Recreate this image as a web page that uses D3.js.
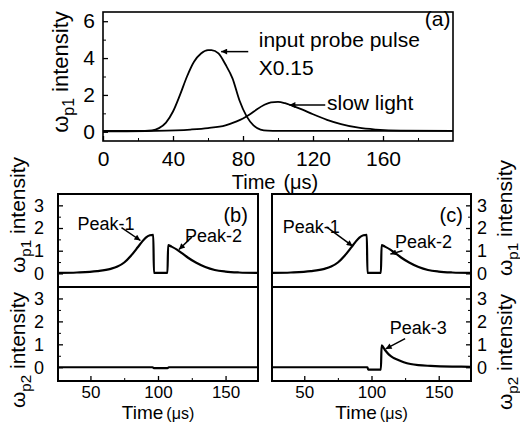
<!DOCTYPE html>
<html>
<head>
<meta charset="utf-8">
<script src="https://cdn.jsdelivr.net/npm/d3@7"></script>
<style>
  body { margin: 0; background: #fff; }
  svg { display: block; }
  text { font-family: "Liberation Sans", Arial, sans-serif; fill: #000; }
</style>
</head>
<body>
<svg id="chart" width="520" height="423"></svg>
<script>
// panel (a): input probe pulse (x0.15) and slow light
const inputT = [0, 20, 28, 32, 36, 40, 44, 48, 52, 56, 60, 62, 66, 70, 74, 78, 82, 86, 90, 94, 100, 120, 160, 200];
const inputV = [0.05, 0.05, 0.08, 0.2, 0.5, 1.1, 2.0, 3.0, 3.8, 4.25, 4.43, 4.43, 4.25, 3.65, 2.9, 1.7, 0.85, 0.35, 0.12, 0.06, 0.05, 0.05, 0.05, 0.05];
const slowT = [0, 30, 50, 60, 70, 76, 80, 84, 88, 92, 96, 100, 104, 108, 114, 120, 128, 136, 146, 156, 170, 200];
const slowV = [0.02, 0.05, 0.12, 0.2, 0.35, 0.55, 0.72, 0.95, 1.22, 1.45, 1.6, 1.62, 1.55, 1.42, 1.2, 0.95, 0.65, 0.42, 0.22, 0.12, 0.06, 0.05];

// panels (b),(c): wp1 is the same, wp2 differs
const p1T = [26, 40, 55, 65, 70, 75, 80, 85, 88, 91, 94, 96.5, 97, 107, 107.5, 110, 114, 118, 122, 128, 135, 142, 150, 160, 174];
const p1V = [0.02, 0.04, 0.1, 0.2, 0.3, 0.48, 0.78, 1.15, 1.38, 1.58, 1.68, 1.7, 0.02, 0.02, 1.25, 1.18, 1.05, 0.88, 0.7, 0.48, 0.28, 0.15, 0.08, 0.04, 0.02];
const p2bT = [26, 60, 96, 97, 107, 108, 130, 174];
const p2bV = [0.0, 0.0, 0.0, -0.04, -0.04, 0.0, 0.0, 0.0];
const p2cT = [26, 60, 90, 97, 97.5, 107, 107.5, 110, 113, 116, 119, 124, 129, 135, 144, 160, 174];
const p2cV = [0.0, 0.0, 0.0, 0.0, -0.1, -0.1, 0.95, 0.75, 0.55, 0.42, 0.34, 0.22, 0.14, 0.09, 0.06, 0.03, 0.02];

const ticksA_X = [0, 40, 80, 120, 160];
const ticksA_Y = [0, 2, 4, 6];
const ticksBC_X = [50, 100, 150];
const ticksBC_Y = [0, 1, 2, 3];
const notesA = ['input probe pulse', 'X0.15', 'slow light', '(a)'];
const notesBC = ['Peak-1', 'Peak-2', 'Peak-3'];

const svg = d3.select('#chart');
const defs = svg.append('defs');
defs.append('marker')
  .attr('id', 'head')
  .attr('viewBox', '0 0 10 10')
  .attr('refX', 10).attr('refY', 5)
  .attr('markerWidth', 10).attr('markerHeight', 6)
  .attr('markerUnits', 'userSpaceOnUse')
  .attr('orient', 'auto')
  .append('path').attr('d', 'M0,0L10,5L0,10z').attr('fill', '#000');

function zip(ts, vs) {
  return ts.map((t, i) => [t, vs[i]]);
}

function curve(g, x, y, ts, vs, width) {
  g.append('path')
    .datum(zip(ts, vs))
    .attr('fill', 'none')
    .attr('stroke', '#000')
    .attr('stroke-width', width)
    .attr('stroke-linejoin', 'round')
    .attr('d', d3.line().x(d => x(d[0])).y(d => y(d[1])).curve(d3.curveMonotoneX));
}

function frame(g, x, y, width) {
  let [x0, x1] = x.range();
  let [y0, y1] = y.range();
  g.append('rect')
    .attr('x', x0).attr('y', Math.min(y0, y1))
    .attr('width', x1 - x0).attr('height', Math.abs(y0 - y1))
    .attr('fill', 'none').attr('stroke', '#000').attr('stroke-width', width);
}

function arrow(g, x, y, t0, v0, t1, v1) {
  g.append('line')
    .attr('x1', x(t0)).attr('y1', y(v0))
    .attr('x2', x(t1)).attr('y2', y(v1))
    .attr('stroke', '#000').attr('stroke-width', 1.5)
    .attr('marker-end', 'url(#head)');
}

function note(g, x, y, t, v, txt, size, anchor = 'start') {
  g.append('text')
    .attr('x', x(t)).attr('y', y(v))
    .attr('text-anchor', anchor)
    .style('font-size', size + 'px')
    .text(txt);
}

// axis with inward ticks; minor ticks without labels
function axis(g, maker, scale, pos, major, minor, size, pad, fontSize) {
  let translate = (maker === d3.axisBottom) ? `translate(0,${pos})` : `translate(${pos},0)`;
  g.append('g').attr('transform', translate)
    .call(maker(scale).tickValues(minor).tickSizeInner(-3).tickSizeOuter(0).tickFormat(''))
    .call(s => s.select('.domain').remove());
  g.append('g').attr('transform', translate)
    .call(maker(scale).tickValues(major).tickSizeInner(-size).tickSizeOuter(0).tickPadding(pad).tickFormat(d3.format('d')))
    .call(s => s.select('.domain').remove())
    .call(s => s.selectAll('text').style('font-size', fontSize + 'px').attr('font-family', null))
    .call(s => s.selectAll('line').attr('stroke-width', 1.3));
}

function yLabel(g, x, y, sub, size) {
  let t = g.append('text')
    .attr('transform', `translate(${x},${y}) rotate(-90)`)
    .attr('text-anchor', 'middle')
    .style('font-size', size + 'px');
  t.append('tspan').text('\u03c9');
  t.append('tspan').attr('dy', size * 0.28).style('font-size', (size * 0.72) + 'px').text(sub);
  t.append('tspan').attr('dy', -size * 0.28).text(' intensity');
}

function timeLabel(g, cx, y, size, subSize, gap) {
  let t = g.append('text')
    .attr('x', cx).attr('y', y)
    .attr('text-anchor', 'middle')
    .style('font-size', size + 'px');
  t.append('tspan').text('Time');
  t.append('tspan').attr('dx', gap).style('font-size', subSize + 'px').text('(\u03bcs)');
}

// ---------- panel (a)
const aX = d3.scaleLinear().domain([0, 200]).range([103, 453]);
const aY = d3.scaleLinear().domain([-0.5, 6.5]).range([141, 12]);
const ga = svg.append('g');
curve(ga, aX, aY, inputT, inputV, 1.8);
curve(ga, aX, aY, slowT, slowV, 1.8);
frame(ga, aX, aY, 1.6);
axis(ga, d3.axisBottom, aX, 141, ticksA_X, d3.range(20, 200, 40), 5, 10, 21);
axis(ga, d3.axisLeft, aY, 103, ticksA_Y, [1, 3, 5], 5, 8, 21);
note(ga, aX, aY, 89, 4.6, notesA[0], 21);
note(ga, aX, aY, 89, 3.08, notesA[1], 21);
note(ga, aX, aY, 128, 1.18, notesA[2], 21);
note(ga, aX, aY, 198.5, 5.72, notesA[3], 21, 'end');
arrow(ga, aX, aY, 83, 4.35, 67.5, 4.35);
arrow(ga, aX, aY, 127, 1.45, 106.5, 1.45);
yLabel(ga, 68, 72, 'p1', 22);
timeLabel(ga, 275, 189, 20, 20, 8);

// ---------- panels (b) and (c)
const yTop = d3.scaleLinear().domain([-0.6, 3.5]).range([287, 194]);
const yBot = d3.scaleLinear().domain([-0.6, 3.5]).range([381, 287]);

function lowerPanel(x, side, p2T, p2V) {
  let g = svg.append('g');
  curve(g, x, yTop, p1T, p1V, 2.2);
  curve(g, x, yBot, p2T, p2V, 2.2);
  frame(g, x, yTop, 2);
  frame(g, x, yBot, 2);
  axis(g, d3.axisBottom, x, 381, ticksBC_X, [75, 125], 5, 5, 17);
  let [x0, x1] = x.range();
  if (side === 'left') {
    axis(g, d3.axisLeft, yTop, x0, ticksBC_Y, [0.5, 1.5, 2.5], 5, 14, 18);
    axis(g, d3.axisLeft, yBot, x0, ticksBC_Y, [0.5, 1.5, 2.5], 5, 14, 18);
    yLabel(g, 25, 215, 'p1', 21);
    yLabel(g, 25, 350, 'p2', 21);
  } else {
    axis(g, d3.axisRight, yTop, x1, ticksBC_Y, [0.5, 1.5, 2.5], 5, 6, 18);
    axis(g, d3.axisRight, yBot, x1, ticksBC_Y, [0.5, 1.5, 2.5], 5, 6, 18);
    yLabel(g, 512, 218, 'p1', 21);
    yLabel(g, 512, 352, 'p2', 21);
  }
  timeLabel(g, (x0 + x1) / 2, 419, 19, 16, 3);
  return g;
}

const bX = d3.scaleLinear().domain([26, 174]).range([58, 258]);
const gb = lowerPanel(bX, 'left', p2bT, p2bV);
note(gb, bX, yTop, 166.5, 2.28, '(b)', 20, 'end');
note(gb, bX, yTop, 40.5, 1.91, notesBC[0], 18);
arrow(gb, bX, yTop, 73, 2.02, 87, 1.45);
note(gb, bX, yTop, 120, 1.4, notesBC[1], 18);
arrow(gb, bX, yTop, 125, 1.6, 115.5, 1.05);

const cX = d3.scaleLinear().domain([26, 174]).range([272, 471]);
const gc = lowerPanel(cX, 'right', p2cT, p2cV);
note(gc, cX, yTop, 168, 2.28, '(c)', 20, 'end');
note(gc, cX, yTop, 34, 1.78, notesBC[0], 18);
arrow(gc, cX, yTop, 66.5, 2.05, 86, 1.2);
note(gc, cX, yTop, 117.5, 1.12, notesBC[1], 18);
arrow(gc, cX, yTop, 123, 1.0, 114, 0.85);
note(gc, cX, yBot, 113.5, 1.43, notesBC[2], 18);
arrow(gc, cX, yBot, 125, 1.25, 110.5, 0.8);
</script>
</body>
</html>
